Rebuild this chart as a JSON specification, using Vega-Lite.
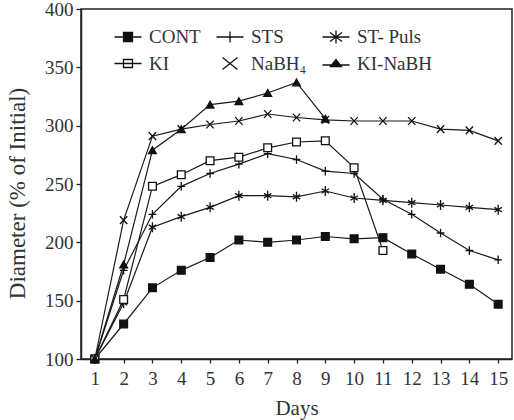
{
  "$schema": "https://vega.github.io/schema/vega-lite/v6.json",
  "width": 431,
  "height": 350,
  "autosize": {"type": "none"},
  "padding": {"left": 81, "top": 9, "right": 2, "bottom": 61},
  "background": "white",
  "config": {
    "view": {"stroke": "#222", "strokeWidth": 1.5},
    "font": "Liberation Serif",
    "legend": {
      "orient": "none",
      "legendX": 36,
      "legendY": 17,
      "direction": "horizontal",
      "columns": 3,
      "padding": 0,
      "symbolSize": 400,
      "symbolStrokeWidth": 1.3,
      "symbolOpacity": 1,
      "labelFont": "Liberation Serif",
      "labelFontSize": 19,
      "labelColor": "#333",
      "labelOffset": 10,
      "rowPadding": 5.5,
      "columnPadding": 12,
      "gridAlign": "each"
    }
  },
  "data": {
    "values": [
      {"series": "CONT", "day": 1, "value": 100},
      {"series": "CONT", "day": 2, "value": 130},
      {"series": "CONT", "day": 3, "value": 161},
      {"series": "CONT", "day": 4, "value": 176},
      {"series": "CONT", "day": 5, "value": 187},
      {"series": "CONT", "day": 6, "value": 202},
      {"series": "CONT", "day": 7, "value": 200},
      {"series": "CONT", "day": 8, "value": 202},
      {"series": "CONT", "day": 9, "value": 205},
      {"series": "CONT", "day": 10, "value": 203},
      {"series": "CONT", "day": 11, "value": 204},
      {"series": "CONT", "day": 12, "value": 190},
      {"series": "CONT", "day": 13, "value": 177},
      {"series": "CONT", "day": 14, "value": 164},
      {"series": "CONT", "day": 15, "value": 147},
      {"series": "STS", "day": 1, "value": 100},
      {"series": "STS", "day": 2, "value": 176},
      {"series": "STS", "day": 3, "value": 224},
      {"series": "STS", "day": 4, "value": 248},
      {"series": "STS", "day": 5, "value": 259},
      {"series": "STS", "day": 6, "value": 267},
      {"series": "STS", "day": 7, "value": 276},
      {"series": "STS", "day": 8, "value": 271},
      {"series": "STS", "day": 9, "value": 261},
      {"series": "STS", "day": 10, "value": 259},
      {"series": "STS", "day": 11, "value": 237},
      {"series": "STS", "day": 12, "value": 224},
      {"series": "STS", "day": 13, "value": 208},
      {"series": "STS", "day": 14, "value": 193},
      {"series": "STS", "day": 15, "value": 185},
      {"series": "ST- Puls", "day": 1, "value": 100},
      {"series": "ST- Puls", "day": 2, "value": 148},
      {"series": "ST- Puls", "day": 3, "value": 213},
      {"series": "ST- Puls", "day": 4, "value": 222},
      {"series": "ST- Puls", "day": 5, "value": 230},
      {"series": "ST- Puls", "day": 6, "value": 240},
      {"series": "ST- Puls", "day": 7, "value": 240},
      {"series": "ST- Puls", "day": 8, "value": 239},
      {"series": "ST- Puls", "day": 9, "value": 244},
      {"series": "ST- Puls", "day": 10, "value": 238},
      {"series": "ST- Puls", "day": 11, "value": 236},
      {"series": "ST- Puls", "day": 12, "value": 234},
      {"series": "ST- Puls", "day": 13, "value": 232},
      {"series": "ST- Puls", "day": 14, "value": 230},
      {"series": "ST- Puls", "day": 15, "value": 228},
      {"series": "KI", "day": 1, "value": 100},
      {"series": "KI", "day": 2, "value": 151},
      {"series": "KI", "day": 3, "value": 248},
      {"series": "KI", "day": 4, "value": 258},
      {"series": "KI", "day": 5, "value": 270},
      {"series": "KI", "day": 6, "value": 273},
      {"series": "KI", "day": 7, "value": 281},
      {"series": "KI", "day": 8, "value": 286},
      {"series": "KI", "day": 9, "value": 287},
      {"series": "KI", "day": 10, "value": 264},
      {"series": "KI", "day": 11, "value": 193},
      {"series": "NaBH₄", "day": 1, "value": 100},
      {"series": "NaBH₄", "day": 2, "value": 219},
      {"series": "NaBH₄", "day": 3, "value": 291},
      {"series": "NaBH₄", "day": 4, "value": 297},
      {"series": "NaBH₄", "day": 5, "value": 301},
      {"series": "NaBH₄", "day": 6, "value": 304},
      {"series": "NaBH₄", "day": 7, "value": 310},
      {"series": "NaBH₄", "day": 8, "value": 307},
      {"series": "NaBH₄", "day": 9, "value": 305},
      {"series": "NaBH₄", "day": 10, "value": 304},
      {"series": "NaBH₄", "day": 11, "value": 304},
      {"series": "NaBH₄", "day": 12, "value": 304},
      {"series": "NaBH₄", "day": 13, "value": 297},
      {"series": "NaBH₄", "day": 14, "value": 296},
      {"series": "NaBH₄", "day": 15, "value": 287},
      {"series": "KI-NaBH", "day": 1, "value": 100},
      {"series": "KI-NaBH", "day": 2, "value": 181},
      {"series": "KI-NaBH", "day": 3, "value": 279},
      {"series": "KI-NaBH", "day": 4, "value": 297},
      {"series": "KI-NaBH", "day": 5, "value": 318},
      {"series": "KI-NaBH", "day": 6, "value": 321},
      {"series": "KI-NaBH", "day": 7, "value": 328},
      {"series": "KI-NaBH", "day": 8, "value": 337},
      {"series": "KI-NaBH", "day": 9, "value": 306}
    ]
  },
  "encoding": {
    "x": {
      "field": "day",
      "type": "quantitative",
      "scale": {"domain": [0.52, 15.48], "nice": false, "zero": false},
      "axis": {
        "values": [1, 2, 3, 4, 5, 6, 7, 8, 9, 10, 11, 12, 13, 14, 15],
        "title": "Days",
        "grid": false,
        "tickSize": 4,
        "labelPadding": 6,
        "labelFont": "Liberation Serif",
        "titleFont": "Liberation Serif",
        "labelFontSize": 19,
        "titleFontSize": 21,
        "titleFontWeight": "normal",
        "titlePadding": 9,
        "labelColor": "#333",
        "titleColor": "#333",
        "domainColor": "#222",
        "domainWidth": 1.5,
        "tickColor": "#222",
        "tickWidth": 1.3,
        "labelFlush": false,
        "labelOverlap": false
      }
    },
    "y": {
      "field": "value",
      "type": "quantitative",
      "scale": {"domain": [100, 400], "nice": false, "zero": false},
      "axis": {
        "values": [100, 150, 200, 250, 300, 350, 400],
        "title": "Diameter (% of Initial)",
        "grid": false,
        "tickSize": 5,
        "labelPadding": 3,
        "labelFont": "Liberation Serif",
        "titleFont": "Liberation Serif",
        "labelFontSize": 19,
        "titleFontSize": 23,
        "titleFontWeight": "normal",
        "titlePadding": 15,
        "titleY": 184,
        "labelColor": "#333",
        "titleColor": "#333",
        "domainColor": "#222",
        "domainWidth": 1.5,
        "tickColor": "#222",
        "tickWidth": 1.3,
        "labelFlush": false,
        "labelOverlap": false
      }
    }
  },
  "layer": [
    {
      "mark": {"type": "line", "color": "#1a1a1a", "strokeWidth": 1.2},
      "encoding": {"detail": {"field": "series", "type": "nominal"}}
    },
    {
      "mark": {"type": "point", "stroke": "#111", "strokeWidth": 1.3, "opacity": 1, "fillOpacity": 1, "size": 60},
      "encoding": {
        "shape": {
          "field": "series",
          "type": "nominal",
          "scale": {
            "domain": ["CONT", "STS", "ST- Puls", "KI", "NaBH₄", "KI-NaBH"],
            "range": [
              "square",
              "M0,-1.1V1.1M-1,0H1",
              "M0,-1.3V1.3M-0.95,-0.6L0.95,0.6M-0.95,0.6L0.95,-0.6",
              "square",
              "M-0.95,-1L0.95,1M-0.95,1L0.95,-1",
              "triangle-up"
            ]
          },
          "legend": null
        },
        "fill": {
          "field": "series",
          "type": "nominal",
          "scale": {
            "domain": ["CONT", "STS", "ST- Puls", "KI", "NaBH₄", "KI-NaBH"],
            "range": ["#111", "white", "white", "white", "white", "#111"]
          },
          "legend": null
        }
      }
    },
    {
      "mark": {"type": "point", "stroke": "#111", "strokeWidth": 1.3, "opacity": 0, "size": 60},
      "encoding": {
        "shape": {
          "field": "series",
          "type": "nominal",
          "scale": {
            "domain": ["CONT", "STS", "ST- Puls", "KI", "NaBH₄", "KI-NaBH"],
            "range": [
              "M-1.35,0H1.35M-0.45,-0.45H0.45V0.45H-0.45Z",
              "M-1.35,0H1.35M0,-0.55V0.55",
              "M-1.35,0H1.35M0,-0.65V0.65M-0.6,-0.45L0.6,0.45M-0.6,0.45L0.6,-0.45",
              "M-1.35,0H1.35M-0.45,-0.4H0.45V0.4H-0.45Z",
              "M-0.75,-0.6L0.75,0.6M-0.75,0.6L0.75,-0.6",
              "M-1.35,0.15H1.35M-0.55,0.3L0,-0.4L0.55,0.3Z"
            ]
          },
          "legend": {"title": null}
        },
        "fill": {
          "field": "series",
          "type": "nominal",
          "scale": {
            "domain": ["CONT", "STS", "ST- Puls", "KI", "NaBH₄", "KI-NaBH"],
            "range": ["#111", "white", "white", "white", "white", "#111"]
          },
          "legend": {"title": null}
        }
      }
    }
  ],
  "resolve": {"scale": {"shape": "independent", "fill": "independent"}}
}
